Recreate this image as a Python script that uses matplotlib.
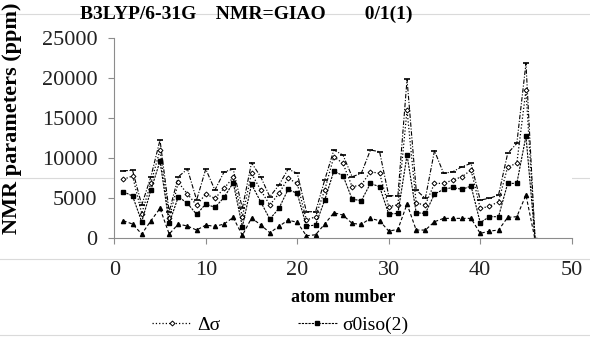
import numpy as np
import matplotlib.pyplot as plt
from matplotlib.lines import Line2D

# values (ppm), atoms 1..46
atoms = np.arange(1, 47)
sigma_top = [8450, 8500, 4160, 7700, 12290, 3330, 7700, 8660, 4790, 8660,
             6040, 8300, 8660, 3750, 9450, 7700, 5200, 6660, 8660, 8120,
             3330, 3330, 7290, 11040, 10410, 7700, 8120, 11040, 10830, 5330,
             5330, 19870, 6040, 5000, 10950, 8120, 8330, 8950, 9370, 4790,
             5000, 5410, 10620, 11870, 21870, -200]
delta_sigma = [7370, 7800, 3100, 6900, 11040, 2500, 7000, 5540, 4160, 5540,
               5000, 6250, 7620, 2700, 8120, 6040, 4160, 5620, 7500, 6870,
               2290, 2700, 6040, 10200, 9370, 6450, 6670, 8330, 8120, 3960,
               4200, 16040, 4370, 4200, 6870, 6870, 7290, 7700, 8540, 3750,
               4000, 4580, 8950, 9370, 18540, -200]
sigma0_iso2 = [5830, 5290, 2080, 6040, 9660, 1870, 5210, 4370, 3000, 4300,
               3870, 5120, 6950, 1460, 6750, 4580, 2410, 3750, 6120, 5620,
               1540, 1660, 4790, 8410, 7830, 4910, 4700, 6870, 6450, 3040,
               3120, 10410, 3200, 3120, 5540, 6120, 6370, 6120, 6540, 1960,
               2710, 2710, 6870, 6870, 12790, -200]
sigma_low = [2200, 1790, 540, 2200, 3750, 540, 1790, 1540, 1040, 1660,
             1500, 1790, 2620, 370, 2540, 1700, 700, 1500, 2290, 2000,
             330, 450, 1790, 3200, 2910, 1870, 1750, 2500, 2200, 910,
             1120, 4290, 1040, 1040, 2080, 2500, 2500, 2500, 2500, 620,
             910, 1040, 2620, 2710, 5410, -200]

xticks = [0, 10, 20, 30, 40, 50]
yticks = [0, 5000, 10000, 15000, 20000, 25000]

serif = ['Liberation Serif', 'DejaVu Serif']
plt.rcParams['font.family'] = serif

fig = plt.figure(figsize=(5.9, 3.42), dpi=100)
ax = fig.add_axes([0.1937, 0.303, 0.7753, 0.585])

ax.plot(atoms, sigma_top, color='black', lw=0.8, ls=(0, (4, 1.5, 1, 1.5)),
        marker='_', ms=5, mew=1.2, label='_nolegend_')
ax.plot(atoms, delta_sigma, color='black', lw=0.9, ls=':',
        marker='D', ms=2.5, mfc='white', mew=0.7, label='Δσ')
ax.plot(atoms, sigma0_iso2, color='black', lw=0.8, ls=(0, (2, 1)),
        marker='s', ms=3, label='σ0iso(2)')
ax.plot(atoms, sigma_low, color='black', lw=0.8, ls=(0, (3, 2)),
        marker='^', ms=3, label='_nolegend_')

ax.set_xlim(0, 50)
ax.set_ylim(0, 25000)
ax.set_xticks(xticks)
ax.set_yticks(yticks)
for side in ['top', 'right']:
    ax.spines[side].set_visible(False)
for side in ['left', 'bottom']:
    ax.spines[side].set_color('#8c8c8c')
ax.tick_params(colors='#8c8c8c', labelcolor='#222222', labelsize=16,
               length=4, pad=8)
ax.tick_params(axis='x', pad=12)

ax.set_xlabel('atom number', fontsize=13, fontweight='bold', labelpad=7)
fig.text(0.02, 0.655, 'NMR parameters (ppm)', rotation=90, fontsize=16,
         fontweight='bold', ha='center', va='center')
fig.text(0.135, 0.958, 'B3LYP/6-31G    NMR=GIAO        0/1(1)', fontsize=14,
         fontweight='bold', ha='left', va='center')

ax.legend(loc='center left', bbox_to_anchor=(0.245, 0.05), bbox_transform=fig.transFigure,
          ncol=2, frameon=False, fontsize=14, handlelength=2.0, handletextpad=0.3,
          columnspacing=4.0, borderaxespad=0)

# faint scan lines crossing the page
for yy in [14, 178, 259, 335]:
    fig.add_artist(Line2D([0, 1], [1 - yy / 342, 1 - yy / 342], color='#dadada',
                          lw=0.8, transform=fig.transFigure, zorder=0))

fig.savefig('out.png', dpi=100)
